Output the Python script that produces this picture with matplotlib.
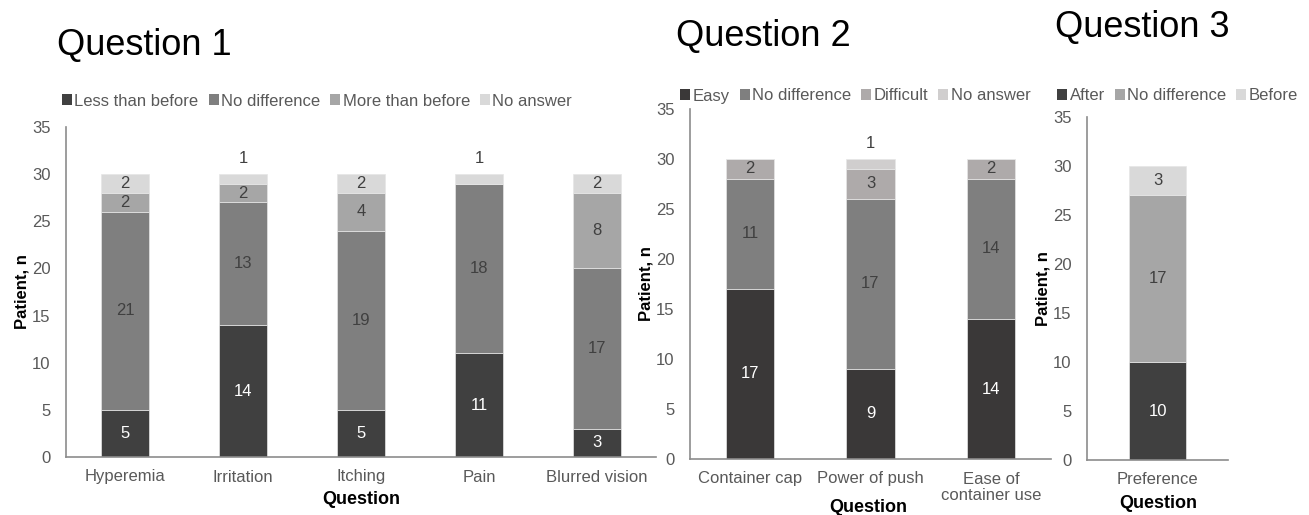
import matplotlib.pyplot as plt
from matplotlib.patches import Patch

plt.rcParams['font.family'] = ['Liberation Sans', 'DejaVu Sans']

# Question 1: symptoms after switching
q1_items = ['Hyperemia', 'Irritation', 'Itching', 'Pain', 'Blurred vision']
q1_series = ['Less than before', 'No difference', 'More than before', 'No answer']
q1_less = [5, 14, 5, 11, 3]
q1_same = [21, 13, 19, 18, 17]
q1_more = [2, 2, 4, 0, 8]
q1_none = [2, 1, 2, 1, 2]

# Question 2: handling of the container
q2_items = ['Container cap', 'Power of push', 'Ease of\ncontainer use']
q2_series = ['Easy', 'No difference', 'Difficult', 'No answer']
q2_easy = [17, 9, 14]
q2_same = [11, 17, 14]
q2_hard = [2, 3, 2]
q2_none = [0, 1, 0]

# Question 3: overall preference
q3_items = ['Preference']
q3_series = ['After', 'No difference', 'Before']
q3_after = [10]
q3_same = [17]
q3_before = [3]

q1_colors = ['#404040', '#7f7f7f', '#a6a6a6', '#d9d9d9']
q2_colors = ['#3a3838', '#7f7f7f', '#aeaaaa', '#d0cece']
q3_colors = ['#404040', '#a6a6a6', '#d9d9d9']

TXT = '#595959'
AXC = '#8c8c8c'
FS = 12
W, H = 1309, 515

fig = plt.figure(figsize=(W / 100, H / 100), dpi=100)


def px(x, y):
    # pixel position (from top-left) -> figure fraction
    return x / W, 1 - y / H


def stacked(ax, items, stacks, colors):
    x = range(len(items))
    bottom = [0] * len(items)
    for vals, col in zip(stacks, colors):
        ax.bar(x, vals, 0.4, bottom=bottom, color=col, edgecolor='#e6e6e6', linewidth=0.5)
        for i, v in enumerate(vals):
            if v == 0:
                continue
            lab_col = 'white' if col in ('#404040', '#3a3838') else '#404040'
            if v == 1:
                ax.annotate(str(v), (i, bottom[i] + v), xytext=(0, 6), textcoords='offset points',
                            ha='center', va='bottom', fontsize=FS, color='#404040')
            else:
                ax.text(i, bottom[i] + v / 2, str(v), ha='center', va='center',
                        fontsize=FS, color=lab_col)
        bottom = [b + v for b, v in zip(bottom, vals)]
    ax.set_xlim(-0.5, len(items) - 0.5)
    ax.set_ylim(0, 35)
    ax.set_yticks(range(0, 36, 5))
    ax.set_xticks(list(x))
    ax.set_xticklabels(items, fontsize=FS, color=TXT, linespacing=1.1)
    ax.tick_params(axis='both', length=0, labelsize=FS, colors=TXT)
    ax.tick_params(axis='y', pad=11)
    ax.tick_params(axis='x', pad=9)
    for s in ['top', 'right']:
        ax.spines[s].set_visible(False)
    for s in ['left', 'bottom']:
        ax.spines[s].set_color(AXC)
        ax.spines[s].set_linewidth(1.2)
    ax.set_ylabel('Patient, n', fontsize=FS, fontweight='bold', labelpad=2)


def legend(labels, colors, x, y):
    handles = [Patch(facecolor=c, edgecolor='none') for c in colors]
    fig.legend(handles, labels, loc='center left', bbox_to_anchor=px(x, y),
               ncol=len(labels), frameon=False, fontsize=FS, handlelength=0.6, handleheight=0.6,
               handletextpad=0.15, columnspacing=0.6, borderaxespad=0, borderpad=0,
               labelcolor=TXT)


def xlabel(x, y):
    fig.text(*px(x, y), 'Question', fontsize=FS + 1, fontweight='bold', ha='center', va='center')


ax1 = fig.add_axes([66 / W, 1 - 457 / H, 590 / W, 330 / H])
stacked(ax1, q1_items, [q1_less, q1_same, q1_more, q1_none], q1_colors)
legend(q1_series, q1_colors, 62, 101)
xlabel(361, 500)

ax2 = fig.add_axes([690 / W, 1 - 459 / H, 361 / W, 350 / H])
stacked(ax2, q2_items, [q2_easy, q2_same, q2_hard, q2_none], q2_colors)
legend(q2_series, q2_colors, 680, 96)
xlabel(868, 507)

ax3 = fig.add_axes([1087 / W, 1 - 460 / H, 141 / W, 343 / H])
stacked(ax3, q3_items, [q3_after, q3_same, q3_before], q3_colors)
legend(q3_series, q3_colors, 1057, 96)
xlabel(1158, 504)

fig.text(*px(57, 45), 'Question 1', fontsize=26, ha='left', va='center')
fig.text(*px(676, 36), 'Question 2', fontsize=26, ha='left', va='center')
fig.text(*px(1055, 28), 'Question 3', fontsize=26, ha='left', va='center')

fig.savefig('out.png', dpi=100)
